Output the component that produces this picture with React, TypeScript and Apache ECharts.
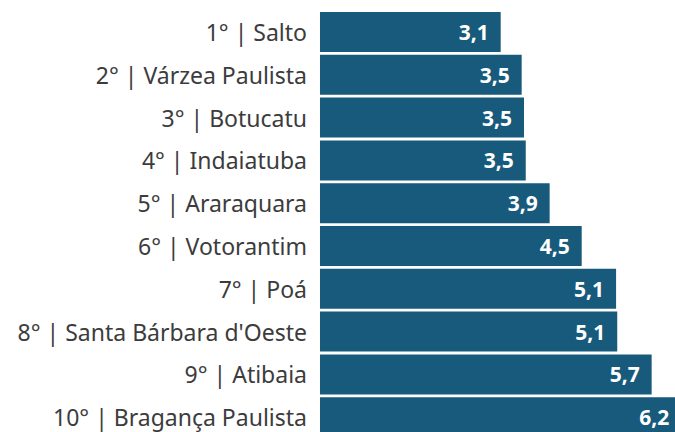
import React, { useEffect, useRef } from "react";
import * as echarts from "echarts";

const categories = [
  "1° | Salto",
  "2° | Várzea Paulista",
  "3° | Botucatu",
  "4° | Indaiatuba",
  "5° | Araraquara",
  "6° | Votorantim",
  "7° | Poá",
  "8° | Santa Bárbara d'Oeste",
  "9° | Atibaia",
  "10° | Bragança Paulista",
];
const values = [3.1, 3.46, 3.5, 3.53, 3.94, 4.49, 5.08, 5.1, 5.69, 6.2];

export default function App() {
  const ref = useRef<HTMLDivElement>(null);
  useEffect(() => {
    if (!ref.current) return;
    const chart = echarts.init(ref.current, undefined, { renderer: "svg" });
    chart.setOption({
      animation: false,
      grid: { left: 320, top: 10.6, width: 408, height: 428, outerBoundsMode: "none", containLabel: false },
      xAxis: {
        type: "value",
        min: 0,
        max: 7,
        show: false,
      },
      yAxis: {
        type: "category",
        data: categories,
        inverse: true,
        axisLine: { show: false },
        axisTick: { show: false },
        splitLine: { show: false },
        axisLabel: {
          color: "#3c3c3c",
          fontSize: 23,
          fontFamily: "Noto Sans",
          margin: 13,
        },
      },
      series: [
        {
          type: "bar",
          data: values,
          barCategoryGap: "6.5%",
          itemStyle: { color: "#185a7b" },
          label: {
            show: true,
            position: "insideRight",
            distance: 12,
            color: "#ffffff",
            fontWeight: "bold",
            fontSize: 21,
            fontFamily: "Open Sans",
            formatter: (p: any) => p.value.toFixed(1).replace(".", ","),
          },
        },
      ],
    });
    return () => chart.dispose();
  }, []);
  return (
    <div
      ref={ref}
      style={{ position: "absolute", left: 0, top: 0, width: 675, height: 432, background: "#fff" }}
    />
  );
}
